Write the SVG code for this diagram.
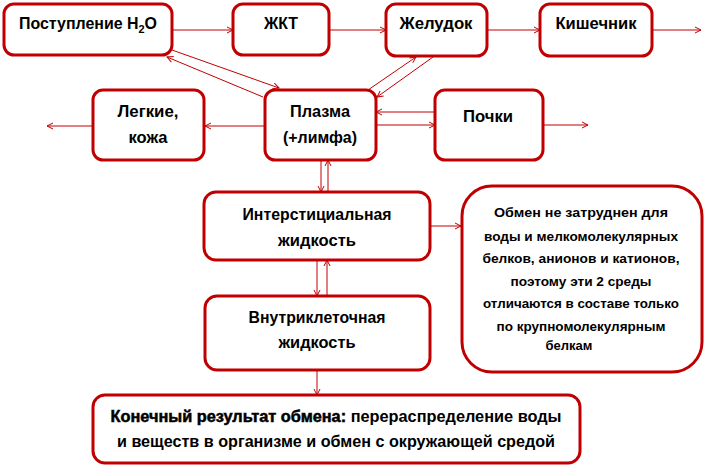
<svg xmlns="http://www.w3.org/2000/svg" width="705" height="467" viewBox="0 0 705 467">
<style>
.box{fill:#fff;stroke:#C00000;stroke-width:3}
.t{font-family:"Liberation Sans",Arial,sans-serif;font-weight:bold;font-size:16px;fill:#000;text-anchor:middle}
.s{font-size:13px}
.f{font-size:16px}
.c line{stroke:#C00000;stroke-width:1;marker-end:url(#a)}
</style>
<defs>
<marker id="a" viewBox="0 0 8 8" refX="7" refY="4" markerWidth="8" markerHeight="8" markerUnits="userSpaceOnUse" orient="auto">
<path d="M1,1 L7,4 L1,7" fill="none" stroke="#C00000" stroke-width="1"/>
</marker>
</defs>
<rect width="705" height="467" fill="#fff"/>
<g class="c" id="connectors">
<line x1="173" y1="30" x2="233" y2="30"/>
<line x1="329" y1="30" x2="386" y2="30"/>
<line x1="487" y1="30" x2="540" y2="30"/>
<line x1="652" y1="30" x2="701" y2="30"/>
<line x1="172" y1="50" x2="279" y2="88"/>
<line x1="263" y1="97" x2="167" y2="57"/>
<line x1="368" y1="90" x2="416" y2="57"/>
<line x1="433" y1="57" x2="377" y2="97"/>
<line x1="435" y1="112" x2="376" y2="112"/>
<line x1="376" y1="125" x2="435" y2="125"/>
<line x1="543" y1="125" x2="588" y2="125"/>
<line x1="265" y1="126" x2="205" y2="126"/>
<line x1="92" y1="126" x2="47" y2="126"/>
<line x1="321" y1="160" x2="321" y2="192"/>
<line x1="328" y1="192" x2="328" y2="160"/>
<line x1="430" y1="226" x2="461" y2="226"/>
<line x1="317" y1="260" x2="317" y2="296"/>
<line x1="327" y1="296" x2="327" y2="260"/>
<line x1="317" y1="370" x2="317" y2="395"/>
</g>
<g id="n_postuplenie">
<rect class="box" x="4" y="4" width="168" height="51" rx="10"/>
<text class="t" x="88" y="29" textLength="138" lengthAdjust="spacingAndGlyphs">Поступление H<tspan font-size="11" dy="4">2</tspan><tspan dy="-4">O</tspan></text>
</g>
<g id="n_zhkt">
<rect class="box" x="233" y="4" width="96" height="51" rx="10"/>
<text class="t" x="281" y="29" textLength="34" lengthAdjust="spacingAndGlyphs">ЖКТ</text>
</g>
<g id="n_zheludok">
<rect class="box" x="386" y="4" width="101" height="52" rx="10"/>
<text class="t" x="436" y="29" textLength="73" lengthAdjust="spacingAndGlyphs">Желудок</text>
</g>
<g id="n_kishechnik">
<rect class="box" x="540" y="4" width="112" height="52" rx="10"/>
<text class="t" x="596" y="29" textLength="81" lengthAdjust="spacingAndGlyphs">Кишечник</text>
</g>
<g id="n_legkie">
<rect class="box" x="93" y="90" width="111" height="70" rx="10"/>
<text class="t" x="148" y="117" textLength="61" lengthAdjust="spacingAndGlyphs">Легкие,</text>
<text class="t" x="148" y="143" textLength="39" lengthAdjust="spacingAndGlyphs">кожа</text>
</g>
<g id="n_plazma">
<rect class="box" x="265" y="90" width="111" height="70" rx="10"/>
<text class="t" x="320" y="117" textLength="60" lengthAdjust="spacingAndGlyphs">Плазма</text>
<text class="t" x="320" y="143" textLength="74" lengthAdjust="spacingAndGlyphs">(+лимфа)</text>
</g>
<g id="n_pochki">
<rect class="box" x="435" y="90" width="108" height="70" rx="10"/>
<text class="t" x="488" y="122" textLength="50" lengthAdjust="spacingAndGlyphs">Почки</text>
</g>
<g id="n_interst">
<rect class="box" x="204" y="192" width="226" height="68" rx="12"/>
<text class="t" x="317" y="220" textLength="149" lengthAdjust="spacingAndGlyphs">Интерстициальная</text>
<text class="t" x="317" y="246" textLength="78" lengthAdjust="spacingAndGlyphs">жидкость</text>
</g>
<g id="n_vnutri">
<rect class="box" x="205" y="296" width="225" height="74" rx="12"/>
<text class="t" x="317" y="323" textLength="137" lengthAdjust="spacingAndGlyphs">Внутриклеточная</text>
<text class="t" x="317" y="348" textLength="77" lengthAdjust="spacingAndGlyphs">жидкость</text>
</g>
<g id="n_obmen">
<rect class="box" x="462" y="186" width="240" height="186" rx="30"/>
<text class="t s" x="581" y="217" textLength="174" lengthAdjust="spacingAndGlyphs">Обмен не затруднен для</text>
<text class="t s" x="581" y="241" textLength="194" lengthAdjust="spacingAndGlyphs">воды и мелкомолекулярных</text>
<text class="t s" x="581" y="263" textLength="197" lengthAdjust="spacingAndGlyphs">белков, анионов и катионов,</text>
<text class="t s" x="581" y="286" textLength="141" lengthAdjust="spacingAndGlyphs">поэтому эти 2 среды</text>
<text class="t s" x="581" y="308" textLength="196" lengthAdjust="spacingAndGlyphs">отличаются в составе только</text>
<text class="t s" x="581" y="331" textLength="169" lengthAdjust="spacingAndGlyphs">по крупномолекулярным</text>
<text class="t s" x="569" y="350">белкам</text>
</g>
<g id="n_final">
<rect class="box" x="93" y="395" width="487" height="68" rx="12"/>
<text class="t f" x="336" y="422" textLength="451" lengthAdjust="spacingAndGlyphs"><tspan stroke="#000" stroke-width="0.5">Конечный результат обмена:</tspan> перераспределение воды</text>
<text class="t f" x="336" y="447" textLength="438" lengthAdjust="spacingAndGlyphs">и веществ в организме и обмен с окружающей средой</text>
</g>
</svg>
